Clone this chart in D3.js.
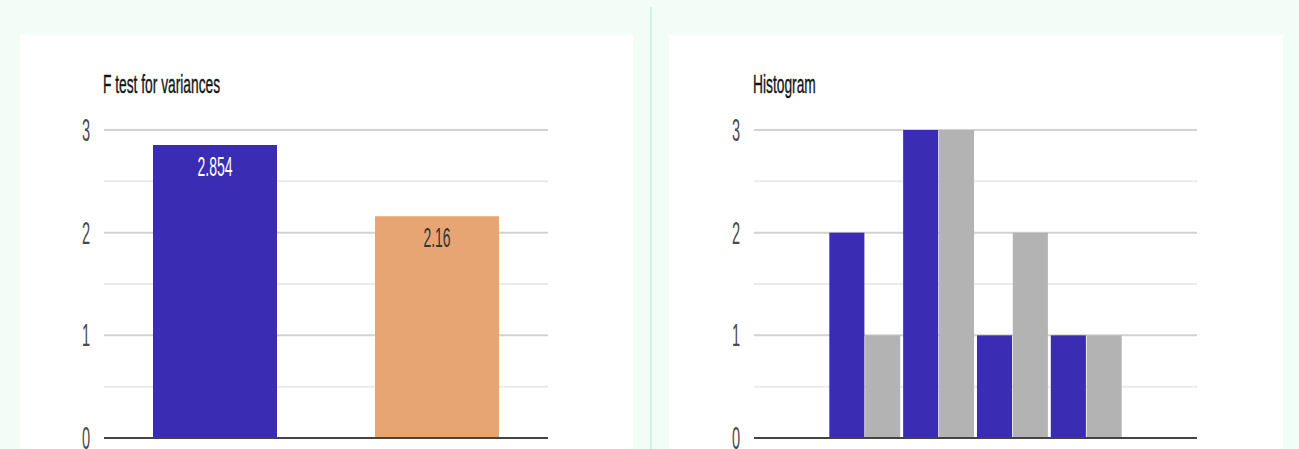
<!DOCTYPE html>
<html>
<head>
<meta charset="utf-8">
<script src="https://cdn.jsdelivr.net/npm/d3@7"></script>
<style>
  html, body { margin: 0; padding: 0; background: #f2fdf7; }
  svg { display: block; }
  text { font-family: "Liberation Sans", Arial, sans-serif; }
</style>
</head>
<body>
<svg id="chart" width="1299" height="449"></svg>
<script>
// ---- data ----
const varianceLabels = ["Sample A", "Sample B"];
const varianceValues = [2.854, 2.16];
const varianceColors = ["#3a2db3", "#e8a574"];

const histBins = ["b0", "b1", "b2", "b3", "b4", "b5"];
const histSeries = ["Sample A", "Sample B"];
const histA = [0, 2, 3, 1, 1, 0];
const histB = [0, 1, 3, 2, 1, 0];
const histColors = ["#3a2db3", "#b3b3b3"];

const yTicks = [0, 1, 2, 3];
const yMinor = [0.5, 1.5, 2.5];

const svg = d3.select("#chart");

// page background, cards and divider
svg.append("rect").attr("x", 0).attr("y", 0).attr("width", 1299).attr("height", 449).attr("fill", "#f2fdf7");
svg.append("rect").attr("x", 20).attr("y", 35).attr("width", 613).attr("height", 420).attr("fill", "#ffffff");
svg.append("rect").attr("x", 669).attr("y", 35).attr("width", 614).attr("height", 420).attr("fill", "#ffffff");
svg.append("rect").attr("x", 650).attr("y", 7).attr("width", 2).attr("height", 442).attr("fill", "#d3f3e4");

// condensed text helper
function label(g, x, y, str, o) {
  const t = g.append("text")
    .attr("transform", `translate(${x},${y}) scale(${o.sx},1)`)
    .attr("text-anchor", o.anchor || "start")
    .attr("font-size", o.size)
    .attr("fill", o.fill)
    .text(str);
  if (o.stroke) t.attr("stroke", o.fill).attr("stroke-width", o.stroke);
  return t;
}

function frame(g, x0, x1, y, title) {
  label(g, x0 - 1, 93, title, { sx: 0.53, size: 26, fill: "#151515", stroke: 0.4 });
  yMinor.forEach(v => {
    g.append("line").attr("x1", x0).attr("x2", x1).attr("y1", y(v)).attr("y2", y(v))
      .attr("stroke", "#ebebeb").attr("stroke-width", 2);
  });
  yTicks.filter(v => v > 0).forEach(v => {
    g.append("line").attr("x1", x0).attr("x2", x1).attr("y1", y(v)).attr("y2", y(v))
      .attr("stroke", "#d2d2d2").attr("stroke-width", 2);
  });
  yTicks.forEach(v => {
    label(g, x0 - 14, y(v) + 11, d3.format("d")(v), { sx: 0.47, size: 31, fill: "#4a4a4a", anchor: "end" });
  });
}

// ---- left: F test for variances ----
{
  const g = svg.append("g");
  const y = d3.scaleLinear().domain([0, 3]).range([438, 130]);
  const x = d3.scaleBand().domain(varianceLabels).range([104, 548])
    .paddingInner(0.4414).paddingOuter(0.2207);
  frame(g, 104, 548, y, "F test for variances");
  g.selectAll("rect.bar").data(varianceValues).join("rect")
    .attr("class", "bar")
    .attr("x", (d, i) => x(varianceLabels[i]))
    .attr("width", x.bandwidth())
    .attr("y", d => y(d))
    .attr("height", d => y(0) - y(d))
    .attr("fill", (d, i) => varianceColors[i]);
  varianceValues.forEach((d, i) => {
    label(g, x(varianceLabels[i]) + x.bandwidth() / 2, y(d) + 31, String(d),
      { sx: 0.5, size: 28, fill: i === 0 ? "#ffffff" : "#333333", anchor: "middle" });
  });
  g.append("line").attr("x1", 104).attr("x2", 548).attr("y1", y(0)).attr("y2", y(0))
    .attr("stroke", "#444").attr("stroke-width", 2);
}

// ---- right: Histogram ----
{
  const g = svg.append("g");
  const y = d3.scaleLinear().domain([0, 3]).range([438, 130]);
  const x0 = d3.scaleBand().domain(histBins).range([754, 1197])
    .paddingInner(0.04).paddingOuter(0.02);
  const x1 = d3.scaleBand().domain(histSeries).range([0, x0.bandwidth()]).paddingInner(0.02);
  frame(g, 754, 1197, y, "Histogram");
  const rows = histBins.map((b, i) => ({ bin: b, values: [histA[i], histB[i]] }));
  g.selectAll("g.bin").data(rows).join("g")
    .attr("class", "bin")
    .attr("transform", d => `translate(${x0(d.bin)},0)`)
    .selectAll("rect").data(d => d.values.map((v, j) => ({ s: histSeries[j], v, j })))
    .join("rect")
    .attr("x", d => x1(d.s))
    .attr("width", x1.bandwidth())
    .attr("y", d => y(d.v))
    .attr("height", d => y(0) - y(d.v))
    .attr("fill", d => histColors[d.j]);
  g.append("line").attr("x1", 754).attr("x2", 1197).attr("y1", y(0)).attr("y2", y(0))
    .attr("stroke", "#444").attr("stroke-width", 2);
}
</script>
</body>
</html>
